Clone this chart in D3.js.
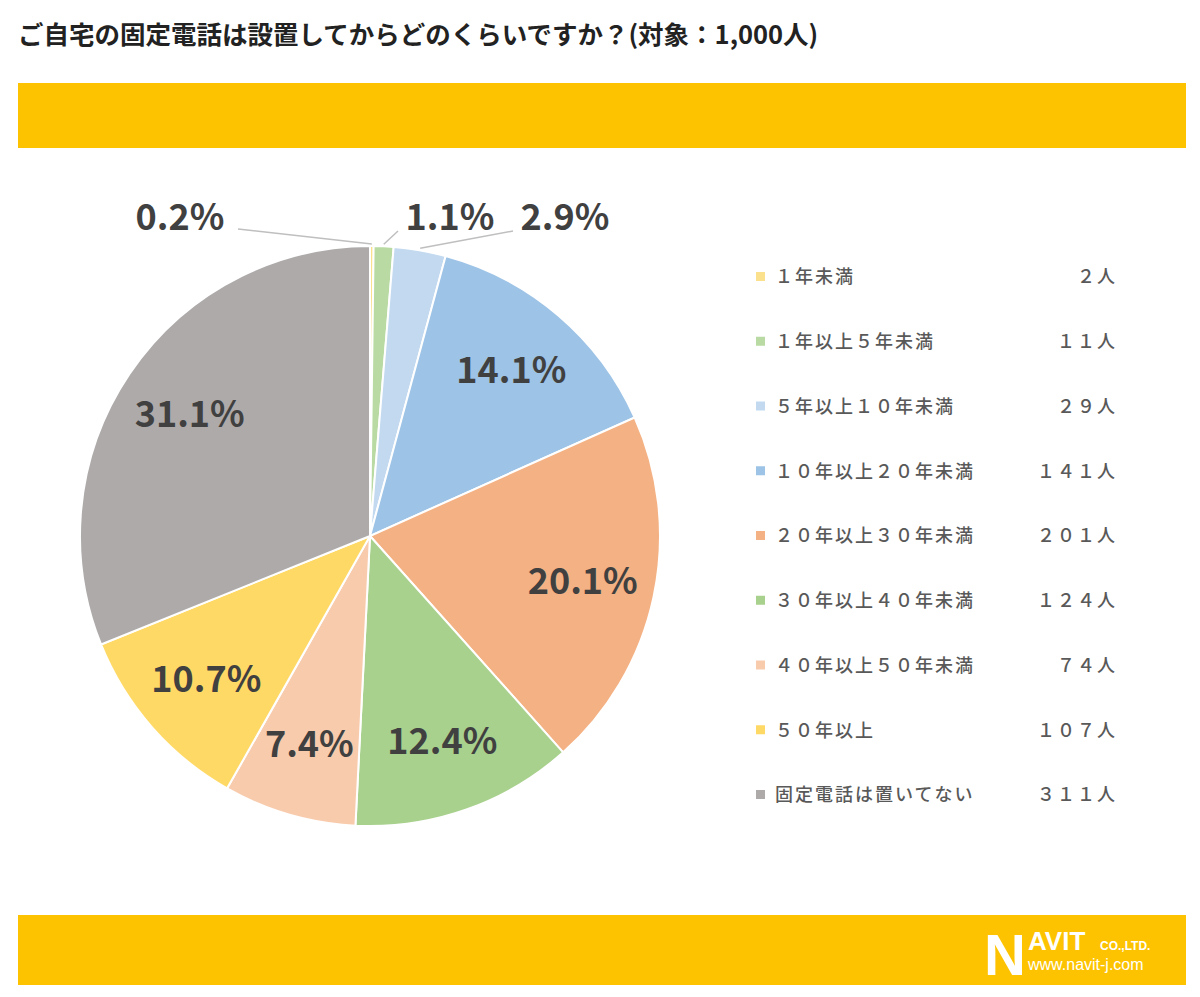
<!DOCTYPE html>
<html><head><meta charset="utf-8">
<script src="https://cdn.jsdelivr.net/npm/d3@7"></script>
<style>body{margin:0;background:#fff}</style>
</head><body>
<svg id="chart" width="1200" height="997"></svg>
<script>
var categories = ["1年未満","1年以上5年未満","5年以上10年未満","10年以上20年未満","20年以上30年未満","30年以上40年未満","40年以上50年未満","50年以上","固定電話は置いてない"];
var counts = [2,11,29,141,201,124,74,107,311];
var percents = ["0.2%","1.1%","2.9%","14.1%","20.1%","12.4%","7.4%","10.7%","31.1%"];
var colors = ["#fbe08e","#b9dba3","#c2d9ef","#9dc3e6","#f4b183","#a9d18e","#f8cbad","#ffd966","#aeaaaa"];

// 全角数字に変換
function zen(s){ return String(s).replace(/[0-9]/g,function(c){return String.fromCharCode(c.charCodeAt(0)+0xFEE0);}); }

var svg = d3.select("#chart");
var font = "'Noto Sans CJK JP', sans-serif";

svg.append("text").attr("x",18).attr("y",44)
  .attr("font-family",font).attr("font-size",25.5).attr("font-weight","bold").attr("fill","#222")
  .text("ご自宅の固定電話は設置してからどのくらいですか？(対象：1,000人)");

svg.append("rect").attr("x",18).attr("y",83).attr("width",1168).attr("height",65).attr("fill","#fdc300");
svg.append("rect").attr("x",18).attr("y",915).attr("width",1168).attr("height",70).attr("fill","#fdc300");

var cx = 370, cy = 536, r = 290;
var pie = d3.pie().sort(null).value(function(d){return d;});
var arcs = pie(counts);
var arc = d3.arc().innerRadius(0).outerRadius(r);
var labelArc = d3.arc().innerRadius(r*0.75).outerRadius(r*0.75);

var g = svg.append("g").attr("transform","translate("+cx+","+cy+")");
g.selectAll("path").data(arcs).enter().append("path")
  .attr("d",arc).attr("fill",function(d,i){return colors[i];})
  .attr("stroke","#fff").attr("stroke-width",2);

// 内側のラベル
g.selectAll("text.in").data(arcs.filter(function(d){return d.index>2;})).enter().append("text")
  .attr("class","in")
  .attr("transform",function(d){return "translate("+labelArc.centroid(d)+")";})
  .attr("text-anchor","middle").attr("dy","0.35em")
  .attr("font-family",font).attr("font-size",36).attr("font-weight","bold").attr("fill","#404040")
  .text(function(d){return percents[d.index];});

// 外側のラベル（小さいスライス）
var outX = [-190, 80, 195];
var outer = d3.arc().innerRadius(r+2).outerRadius(r+2);
arcs.slice(0,3).forEach(function(d,i){
  var p = outer.centroid(d);
  var lx = outX[i], ly = -r - 29;
  g.append("text").attr("x",lx).attr("y",ly).attr("text-anchor","middle").attr("dy","0.35em")
    .attr("font-family",font).attr("font-size",36).attr("font-weight","bold").attr("fill","#404040")
    .text(percents[i]);
  var sx = i==0 ? lx+58 : lx-52;
  g.append("line").attr("x1",sx).attr("y1",ly+(i==0?12:14)).attr("x2",p[0]).attr("y2",p[1])
    .attr("stroke","#bfbfbf").attr("stroke-width",1.5);
});

// 凡例
var ly = d3.scalePoint().domain(categories).range([277,795]);
var leg = svg.append("g").selectAll("g").data(categories).enter().append("g")
  .attr("transform",function(d){return "translate(0,"+ly(d)+")";});
leg.append("rect").attr("x",756).attr("y",-5).attr("width",9).attr("height",9)
  .attr("fill",function(d,i){return colors[i];});
leg.append("text").attr("x",775).attr("dy","0.35em")
  .attr("font-family",font).attr("font-size",18).attr("font-weight",500).attr("fill","#595959").attr("letter-spacing",2)
  .text(function(d){return zen(d);});
leg.append("text").attr("x",1117).attr("dy","0.35em").attr("text-anchor","end")
  .attr("font-family",font).attr("font-size",18).attr("font-weight",500).attr("fill","#595959").attr("letter-spacing",2)
  .text(function(d,i){return zen(counts[i])+"人";});

// ロゴ
var logo = svg.append("g").attr("fill","#fff").attr("font-family","'Liberation Sans', sans-serif");
logo.append("text").attr("x",984).attr("y",975).attr("font-size",58).attr("font-weight","bold").text("N");
logo.append("text").attr("x",1028).attr("y",950).attr("font-size",26).attr("font-weight","bold").text("AVIT");
logo.append("text").attr("x",1100).attr("y",950).attr("font-size",12).attr("font-weight","bold").text("CO.,LTD.");
logo.append("text").attr("x",1028).attr("y",970).attr("font-size",16).text("www.navit-j.com");
</script>
</body></html>
